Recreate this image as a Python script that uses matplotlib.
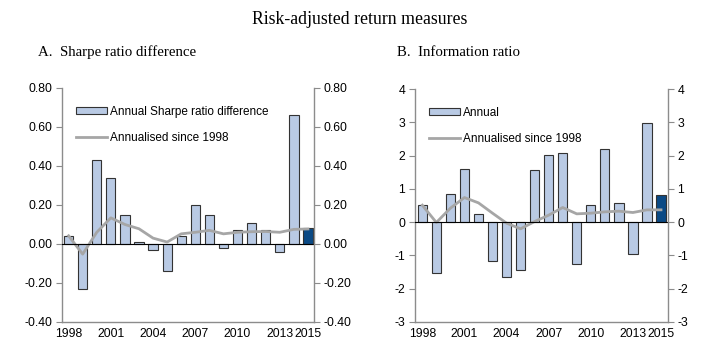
import matplotlib
matplotlib.use("Agg")
import matplotlib.pyplot as plt
import numpy as np

years = list(range(1998, 2016))
tick_years = [1998, 2001, 2004, 2007, 2010, 2013, 2015]

sharpe_annual = [0.04, -0.23, 0.43, 0.34, 0.15, 0.01, -0.03, -0.14, 0.04, 0.20,
                 0.15, -0.02, 0.07, 0.11, 0.07, -0.04, 0.66, 0.08]
sharpe_since = [0.042, -0.052, 0.06, 0.134, 0.10, 0.078, 0.03, 0.01, 0.052, 0.06,
                0.07, 0.052, 0.06, 0.063, 0.064, 0.06, 0.075, 0.077]

info_annual = [0.51, -1.53, 0.84, 1.60, 0.26, -1.18, -1.65, -1.44, 1.58, 2.01,
               2.08, -1.27, 0.51, 2.19, 0.57, -0.97, 2.97, 0.83]
info_since = [0.51, -0.01, 0.42, 0.74, 0.58, 0.27, -0.03, -0.20, 0.02, 0.21,
              0.44, 0.25, 0.27, 0.31, 0.33, 0.29, 0.37, 0.37]

light = "#B9CAE4"
dark = "#0B4A85"
linecol = "#A6A6A6"
spinecol = "#8C8C8C"

plt.rcParams['font.family'] = ['Liberation Sans', 'DejaVu Sans']

fig = plt.figure(figsize=(7.19, 3.62), dpi=100)

def panel(rect, annual, since, ylim, yticks, fmt, label1, xlim):
    ax = fig.add_axes(rect)
    x = np.arange(len(years))
    colors = [light] * (len(years) - 1) + [dark]
    bars = ax.bar(x, annual, width=0.66, color=colors, edgecolor="#333333", linewidth=0.8,
                  zorder=2)
    line, = ax.plot(x, since, color=linecol, linewidth=2.0, zorder=3)
    ax.axhline(0, color="black", linewidth=0.8, zorder=4)
    ax.set_xlim(*xlim)
    ax.set_ylim(*ylim)
    ax.set_yticks(yticks)
    ax.set_yticklabels([fmt(v) for v in yticks], fontsize=8.8)
    ax.set_xticks([years.index(y) for y in tick_years])
    ax.set_xticklabels([str(y) for y in tick_years], fontsize=8.7)
    ax.tick_params(axis='x', length=0, pad=4)
    ax.tick_params(axis='y', direction='out', length=4, color=spinecol, pad=3)
    for s in ['left', 'bottom']:
        ax.spines[s].set_color(spinecol)
        ax.spines[s].set_linewidth(1.0)
    ax.spines['top'].set_visible(False)
    ax.spines['right'].set_visible(False)
    ax2 = ax.twinx()
    ax2.set_ylim(*ylim)
    ax2.set_yticks(yticks)
    ax2.set_yticklabels([fmt(v) for v in yticks], fontsize=8.8)
    ax2.tick_params(axis='y', direction='out', length=4, color=spinecol, pad=3)
    for s in ['top', 'left', 'bottom']:
        ax2.spines[s].set_visible(False)
    ax2.spines['right'].set_color(spinecol)
    ax2.spines['right'].set_linewidth(1.0)
    ax2.legend([bars[0], line], [label1, "Annualised since 1998"],
               loc='upper left', bbox_to_anchor=(0.035, 0.945), frameon=False,
               fontsize=8.5, handlelength=2.7, handleheight=0.6, labelspacing=1.2,
               handletextpad=0.25, borderaxespad=0.0)
    return ax

panel([0.0862, 0.1105, 0.3505, 0.6465], sharpe_annual, sharpe_since,
      (-0.40, 0.80), [-0.40, -0.20, 0.00, 0.20, 0.40, 0.60, 0.80],
      lambda v: f"{v:.2f}", "Annual Sharpe ratio difference", (-0.47, 17.43))
panel([0.5772, 0.1105, 0.3515, 0.6435], info_annual, info_since,
      (-3, 4), [-3, -2, -1, 0, 1, 2, 3, 4],
      lambda v: f"{v:d}", "Annual", (-0.52, 17.48))

serif = ['Liberation Serif', 'DejaVu Serif']
fig.text(0.5, 0.945, "Risk-adjusted return measures", ha='center', va='center',
         fontsize=12.8, family=serif)
fig.text(0.053, 0.855, "A.  Sharpe ratio difference", ha='left', va='center',
         fontsize=10.7, family=serif)
fig.text(0.552, 0.855, "B.  Information ratio", ha='left', va='center',
         fontsize=10.7, family=serif)

fig.savefig("out.png", dpi=100)
